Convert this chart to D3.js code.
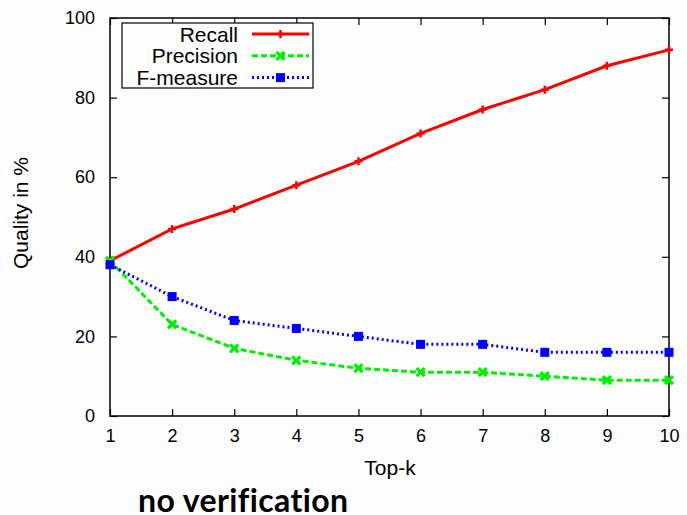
<!DOCTYPE html>
<html>
<head>
<meta charset="utf-8">
<script src="https://cdn.jsdelivr.net/npm/d3@7"></script>
<style>
  body { margin: 0; background: #fdfdfd; }
  svg { display: block; }
  text { font-family: "Liberation Sans", Arial, sans-serif; }
</style>
</head>
<body>
<svg width="687" height="515"></svg>
<script>
var topK = [1, 2, 3, 4, 5, 6, 7, 8, 9, 10];
var recall = [39, 47, 52, 58, 64, 71, 77, 82, 88, 92];
var precision = [39, 23, 17, 14, 12, 11, 11, 10, 9, 9];
var fmeasure = [38, 30, 24, 22, 20, 18, 18, 16, 16, 16];
var yTicks = [0, 20, 40, 60, 80, 100];

var svg = d3.select("svg");
var plotLeft = 110, plotRight = 669, plotTop = 18, plotBottom = 416;

var x = d3.scaleLinear().domain([1, 10]).range([plotLeft, plotRight]);
var y = d3.scaleLinear().domain([0, 100]).range([plotBottom, plotTop]);

// axes, ticks pointing inward, mirrored on top/right
svg.append("g")
    .attr("transform", "translate(0," + plotBottom + ")")
    .call(d3.axisBottom(x).tickValues(topK).tickSize(-7).tickPadding(13).tickFormat(d3.format("d")))
    .call(function(g) { g.select(".domain").remove(); });
svg.append("g")
    .attr("transform", "translate(0," + plotTop + ")")
    .call(d3.axisTop(x).tickValues(topK).tickSize(-7).tickFormat(""))
    .call(function(g) { g.select(".domain").remove(); });
svg.append("g")
    .attr("transform", "translate(" + plotLeft + ",0)")
    .call(d3.axisLeft(y).tickValues(yTicks).tickSize(-7).tickPadding(15))
    .call(function(g) { g.select(".domain").remove(); });
svg.append("g")
    .attr("transform", "translate(" + plotRight + ",0)")
    .call(d3.axisRight(y).tickValues(yTicks).tickSize(-7).tickFormat(""))
    .call(function(g) { g.select(".domain").remove(); });

svg.selectAll(".tick line").attr("stroke", "#000").attr("stroke-width", 1.2);
svg.selectAll(".tick text").style("font-size", "18px").attr("fill", "#000");

svg.append("rect")
    .attr("x", plotLeft).attr("y", plotTop)
    .attr("width", plotRight - plotLeft).attr("height", plotBottom - plotTop)
    .attr("fill", "none").attr("stroke", "#000").attr("stroke-width", 1.5);

svg.append("text")
    .attr("x", 390).attr("y", 475)
    .attr("text-anchor", "middle").style("font-size", "21px")
    .text("Top-k");

svg.append("text")
    .attr("transform", "translate(28,213) rotate(-90)")
    .attr("text-anchor", "middle").style("font-size", "21px")
    .text("Quality in %");

var series = [
    {name: "Recall", values: recall, color: "#ff0000", dash: null, mark: "plus"},
    {name: "Precision", values: precision, color: "#00ee00", dash: "6,3", mark: "cross"},
    {name: "F-measure", values: fmeasure, color: "#0000ff", dash: "2,3", mark: "square"}
];

var line = d3.line()
    .x(function(d, i) { return x(topK[i]); })
    .y(function(d) { return y(d); });

function drawMark(g, cx, cy, s) {
    if (s.mark === "plus") {
        g.append("path")
            .attr("d", "M" + (cx - 4) + "," + cy + "h8M" + cx + "," + (cy - 4) + "v8")
            .attr("stroke", s.color).attr("stroke-width", 2.5);
    } else if (s.mark === "cross") {
        g.append("path")
            .attr("d", "M" + (cx - 4) + "," + (cy - 4) + "l8,8M" + (cx - 4) + "," + (cy + 4) + "l8,-8")
            .attr("stroke", s.color).attr("stroke-width", 3.2);
    } else {
        g.append("rect")
            .attr("x", cx - 4.5).attr("y", cy - 4.5).attr("width", 9).attr("height", 9)
            .attr("fill", s.color);
    }
}

series.forEach(function(s) {
    var g = svg.append("g");
    g.append("path")
        .datum(s.values)
        .attr("d", line)
        .attr("fill", "none")
        .attr("stroke", s.color)
        .attr("stroke-width", 3)
        .attr("stroke-dasharray", s.dash);
    s.values.forEach(function(v, i) {
        drawMark(g, x(topK[i]), y(v), s);
    });
});

// legend
var leg = svg.append("g");
leg.append("rect")
    .attr("x", 122).attr("y", 23).attr("width", 191).attr("height", 65)
    .attr("fill", "#fdfdfd").attr("stroke", "#000").attr("stroke-width", 1.2);
series.forEach(function(s, i) {
    var cy = 34 + i * 21.8;
    leg.append("text")
        .attr("x", 238).attr("y", cy + 7.5)
        .attr("text-anchor", "end").style("font-size", "21px")
        .text(s.name);
    leg.append("line")
        .attr("x1", 252).attr("x2", 309).attr("y1", cy).attr("y2", cy)
        .attr("stroke", s.color).attr("stroke-width", 3)
        .attr("stroke-dasharray", s.dash);
    drawMark(leg, 280.5, cy, s);
});

svg.append("text")
    .attr("x", 138).attr("y", 512)
    .style("font-family", "Lato, 'DejaVu Sans', sans-serif")
    .style("font-weight", "bold").style("font-size", "32px")
    .style("font-variant-ligatures", "none")
    .style("letter-spacing", "0.4px")
    .text("no verification");
</script>
</body>
</html>
